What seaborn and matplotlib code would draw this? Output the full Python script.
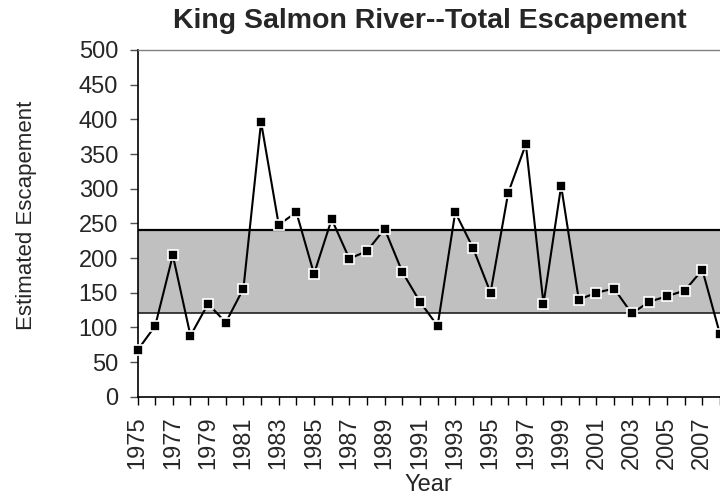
import numpy as np
import pandas as pd
import seaborn as sns
from matplotlib import pyplot as plt

# escapement counts, one per year
years = list(range(1975, 2009))
escapement = [67, 102, 204, 88, 134, 107, 156, 396, 248, 266,
              177, 256, 199, 210, 242, 180, 137, 102, 266, 215,
              150, 294, 364, 134, 304, 140, 150, 156, 120, 137,
              145, 153, 183, 90]

# escapement goal range (shaded band)
goal_low = 120
goal_high = 240

y_ticks = list(range(0, 501, 50))
x_tick_labels = [str(y) if (y - 1975) % 2 == 0 else '' for y in years]


def build_frame(years, values):
    return pd.DataFrame({'Year': years, 'Estimated Escapement': values})


def draw(data):
    fig = plt.figure(figsize=(7.2, 4.97), dpi=100)
    ax = fig.add_axes([0.191, 0.2018, 0.809, 0.6976])

    ax.axhspan(goal_low, goal_high, color='#C0C0C0', zorder=0, lw=0)
    ax.axhline(goal_high, color='black', lw=1.6, zorder=1)
    ax.axhline(goal_low, color='#202020', lw=1.2, zorder=1)

    sns.lineplot(data=data, x='Year', y='Estimated Escapement', ax=ax,
                 color='black', lw=1.5, marker='s', markersize=6.8,
                 markeredgecolor='white', markeredgewidth=1.2,
                 zorder=3, clip_on=False)

    ax.set_xlim(1975, 2008)
    ax.set_ylim(0, 500)
    ax.set_xticks(years)
    ax.set_xticklabels(x_tick_labels, rotation=90)
    ax.set_yticks(y_ticks)
    ax.set_yticklabels([str(v) for v in y_ticks])

    ax.tick_params(axis='x', direction='out', length=6, width=1,
                   color='black', labelsize=17, pad=8)
    ax.tick_params(axis='y', direction='out', length=6, width=1,
                   color='#505050', labelsize=17, pad=8)
    ax.tick_params(left=True, bottom=True)

    for side in ['left', 'bottom']:
        ax.spines[side].set_color('black')
        ax.spines[side].set_linewidth(1.2)
    ax.spines['top'].set_color('#808080')
    ax.spines['top'].set_linewidth(1.0)
    ax.spines['right'].set_visible(False)

    ax.set_xlabel('Year', fontsize=17, labelpad=4)
    ax.set_ylabel('Estimated Escapement', fontsize=16)
    ax.yaxis.set_label_coords(-0.1725, 0.524)

    fig.text(430 / 720, 1 - 28 / 497, 'King Salmon River--Total Escapement',
             ha='center', va='baseline', fontsize=20.5, fontweight='bold')
    return fig


if __name__ == '__main__':
    sns.set_style('white')
    plt.rcParams['font.family'] = ['Liberation Sans', 'DejaVu Sans']
    data = build_frame(years, escapement)
    fig = draw(data)
    fig.savefig('out.png', dpi=100)
